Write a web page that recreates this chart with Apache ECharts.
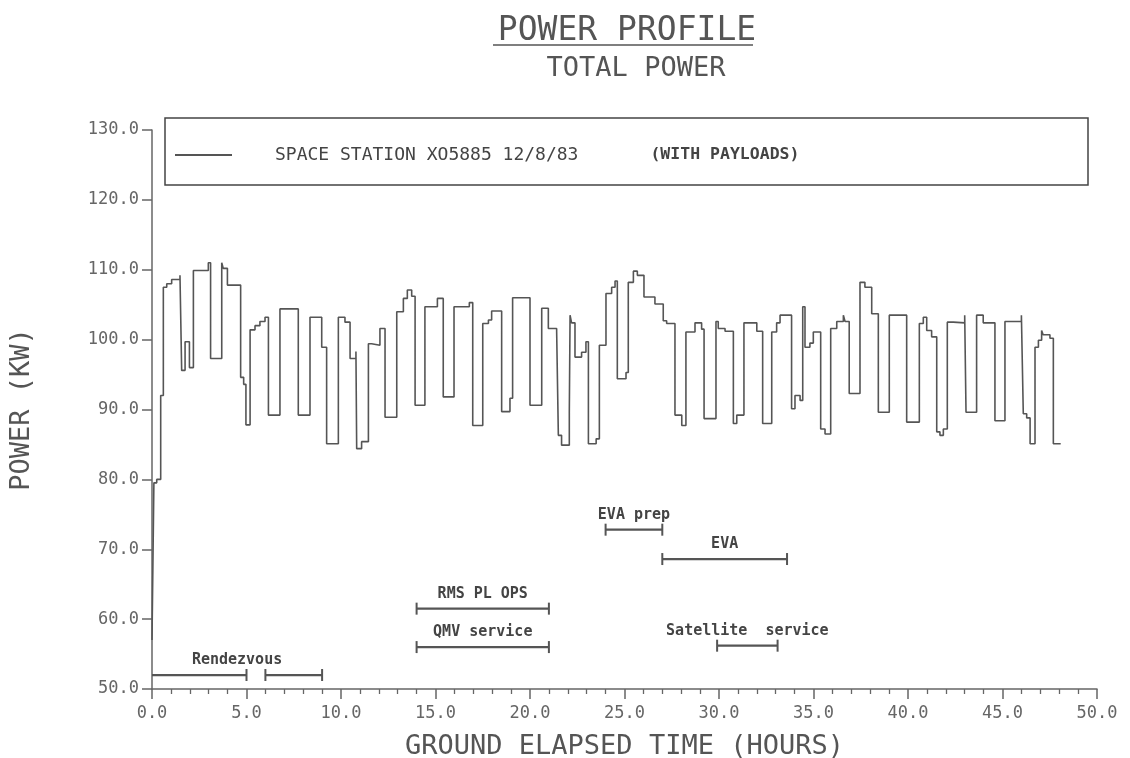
<!DOCTYPE html>
<html>
<head>
<meta charset="utf-8">
<script src="https://cdn.jsdelivr.net/npm/echarts@6/dist/echarts.min.js"></script>
<style>html,body{margin:0;padding:0;background:#fff}#c{width:1130px;height:758px}</style>
</head>
<body>
<div id="c"></div>
<script>
// ---- data ----
const seriesName = 'SPACE STATION XO5885 12/8/83';
const legendNote = '(WITH PAYLOADS)';
// step start times (hours) and power level (kW) held from that time
const times = [0, 0.1, 0.25, 0.46, 0.6, 0.78, 1.04, 1.48, 1.57, 1.75, 1.98, 2.19, 2.98, 3.10, 3.69, 3.77, 3.99, 4.69, 4.85, 4.97,
  5.19, 5.45, 5.71, 5.98, 6.16, 6.77, 7.74, 8.36, 8.98, 9.24, 9.86, 10.21, 10.48, 10.79, 10.83, 11.09, 11.45, 11.62, 12.06, 12.33,
  12.95, 13.3, 13.51, 13.74, 13.92, 14.44, 15.10, 15.41, 15.98, 16.79, 16.97, 17.5, 17.80, 17.97, 18.50, 18.94, 19.08, 20.0, 20.62, 20.97,
  21.41, 21.5, 21.67, 22.08, 22.12, 22.2, 22.38, 22.73, 22.96, 23.09, 23.5, 23.67, 24.02, 24.32, 24.5, 24.62, 25.08, 25.2, 25.47, 25.68,
  26.03, 26.61, 27.05, 27.23, 27.67, 28.03, 28.25, 28.73, 29.08, 29.21, 29.84, 29.96, 30.32, 30.76, 30.94, 31.32, 32.0, 32.31, 32.79, 33.05,
  33.23, 33.84, 34.02, 34.29, 34.43, 34.55, 34.81, 34.99, 35.38, 35.61, 35.91, 36.23, 36.58, 36.67, 36.89, 37.46, 37.72, 38.08, 38.43, 39.01,
  39.93, 40.6, 40.81, 40.99, 41.25, 41.52, 41.69, 41.87, 42.08, 42.4, 43.0, 43.07, 43.63, 43.98, 44.6, 45.13, 46.0, 46.1, 46.28, 46.46,
  46.72, 46.9, 47.07, 47.15, 47.51, 47.69, 48.08];
const power = [57, 79.5, 80, 92, 107.5, 108, 108.6, 109.2, 95.6, 99.7, 96, 109.9, 111, 97.3, 111, 110.2, 107.8, 94.6, 93.6, 87.8,
  101.4, 102, 102.6, 103.2, 89.2, 104.4, 89.2, 103.2, 98.9, 85.1, 103.2, 102.5, 97.3, 98.3, 84.4, 85.4, 99.4, 99.2, 101.6, 88.9,
  104, 105.9, 107.1, 106.2, 90.6, 104.7, 105.9, 91.8, 104.7, 105.3, 87.7, 102.3, 102.8, 104.1, 89.7, 91.6, 106, 90.6, 104.5, 101.6,
  101.2, 86.3, 84.9, 89.5, 103.5, 102.4, 97.5, 98.2, 99.7, 85.1, 85.8, 99.2, 106.6, 107.5, 108.4, 94.4, 95.3, 108.2, 109.8, 109.2,
  106.1, 105.1, 102.7, 102.3, 89.2, 87.7, 101.1, 102.4, 101.5, 88.7, 102.6, 101.6, 101.2, 88, 89.2, 102.4, 101.2, 88, 101.1, 102.4,
  103.5, 90.1, 92, 91.3, 104.7, 98.9, 99.5, 101.1, 87.2, 86.5, 101.6, 102.6, 103.5, 102.6, 92.3, 108.2, 107.5, 103.7, 89.6, 103.5,
  88.2, 102.3, 103.2, 101.3, 100.4, 86.8, 86.3, 87.2, 102.5, 102.4, 103.5, 89.6, 103.5, 102.4, 88.4, 102.6, 103.5, 89.4, 88.8, 85.1,
  98.9, 99.9, 101.3, 100.7, 100.2, 85.1, 85.1];
// activity timeline bars
const actNames  = ['Rendezvous', 'Rendezvous', 'RMS PL OPS', 'QMV service', 'EVA prep', 'EVA', 'Satellite  service'];
const actStart  = [0, 6, 14, 14, 24, 27, 29.9];
const actEnd    = [5, 9, 21, 21, 27, 33.6, 33.1];
const actLevel  = [52, 52, 61.5, 56, 72.8, 68.6, 56.2];
const xTicks = [0, 50, 5];   // min, max, interval
const yTicks = [50, 130, 10];

const mono = 'DejaVu Sans Mono';
const chart = echarts.init(document.getElementById('c'));

const lineData = times.map((t, i) => [t, power[i]]);
// label center for each activity name = middle of its whole span
const spanOf = {};
actNames.forEach((n, i) => {
  const s = spanOf[n] || (spanOf[n] = {a: Infinity, b: -Infinity, first: i});
  s.a = Math.min(s.a, actStart[i]); s.b = Math.max(s.b, actEnd[i]);
});
const actData = actNames.map((n, i) => [actStart[i], actEnd[i], actLevel[i], i]);

chart.setOption({
  animation: false,
  backgroundColor: '#fff',
  title: [
    {text: 'POWER PROFILE', left: 622, top: 10, textAlign: 'center',
     textStyle: {fontFamily: mono, fontSize: 33, fontWeight: 'normal', color: '#555'}},
    {text: 'TOTAL POWER', left: 631, top: 50, textAlign: 'center',
     textStyle: {fontFamily: mono, fontSize: 27, fontWeight: 'normal', color: '#555'}}
  ],
  graphic: [
    {type: 'line', shape: {x1: 493, y1: 45, x2: 753, y2: 45}, style: {stroke: '#555', lineWidth: 1.5}},
    {type: 'rect', shape: {x: 165, y: 118, width: 923, height: 67}, style: {fill: 'none', stroke: '#444', lineWidth: 1.5}}
  ],
  legend: {
    left: 175, top: 146, padding: 0, icon: 'rect', itemWidth: 57, itemHeight: 2,
    data: [seriesName],
    formatter: n => '{a|' + n + '}{b|' + legendNote + '}',
    textStyle: {
      rich: {
        a: {fontFamily: mono, fontSize: 18, color: '#444', padding: [0, 0, 0, 38]},
        b: {fontFamily: mono, fontSize: 16.5, fontWeight: 'bold', color: '#444', padding: [0, 0, 0, 72]}
      }
    }
  },
  grid: {left: 152, right: 33, top: 130, bottom: 69, outerBoundsMode: 'none', containLabel: false},
  xAxis: {
    type: 'value', min: xTicks[0], max: xTicks[1], interval: xTicks[2],
    name: 'GROUND ELAPSED TIME (HOURS)', nameLocation: 'middle', nameGap: 44,
    nameTextStyle: {fontFamily: mono, fontSize: 27, color: '#555'},
    axisLine: {lineStyle: {color: '#666', width: 1.5}},
    axisTick: {length: 10, lineStyle: {color: '#666', width: 1.5}},
    minorTick: {show: true, splitNumber: 5, length: 5, lineStyle: {color: '#666', width: 1.3}},
    axisLabel: {margin: 16, fontFamily: mono, fontSize: 17, color: '#666', formatter: v => v.toFixed(1)},
    splitLine: {show: false}
  },
  yAxis: {
    type: 'value', min: yTicks[0], max: yTicks[1], interval: yTicks[2],
    name: 'POWER (KW)', nameLocation: 'middle', nameGap: 117, nameRotate: 90,
    nameTextStyle: {fontFamily: mono, fontSize: 27, color: '#555'},
    axisLine: {show: true, lineStyle: {color: '#666', width: 1.5}},
    axisTick: {show: true, length: 10, lineStyle: {color: '#666', width: 1.5}},
    axisLabel: {margin: 13, fontFamily: mono, fontSize: 17, color: '#666', formatter: v => v.toFixed(1)},
    splitLine: {show: false}
  },
  series: [
    {
      name: seriesName, type: 'line', step: 'end', data: lineData,
      showSymbol: false, symbol: 'none', itemStyle: {color: '#555'},
      lineStyle: {color: '#555', width: 1.6}
    },
    {
      type: 'custom', clip: false, data: actData, silent: true,
      encode: {x: [0, 1], y: 2},
      renderItem: (params, api) => {
        const a = api.value(0), b = api.value(1), lv = api.value(2), idx = api.value(3);
        const p0 = api.coord([a, lv]), p1 = api.coord([b, lv]);
        const name = actNames[idx];
        const s = spanOf[name];
        const children = [
          {type: 'line', shape: {x1: p0[0], y1: p0[1], x2: p1[0], y2: p1[1]}, style: {stroke: '#555', lineWidth: 2.2}},
          {type: 'line', shape: {x1: p1[0], y1: p1[1] - 6, x2: p1[0], y2: p1[1] + 6}, style: {stroke: '#555', lineWidth: 2}}
        ];
        if (a > 0) children.push({type: 'line', shape: {x1: p0[0], y1: p0[1] - 6, x2: p0[0], y2: p0[1] + 6}, style: {stroke: '#555', lineWidth: 2}});
        if (s.first === idx) {
          const c = api.coord([(s.a + s.b) / 2, lv]);
          children.push({type: 'text', x: c[0], y: c[1] - 7,
            style: {text: name, textAlign: 'center', textVerticalAlign: 'bottom',
              fontFamily: mono, fontSize: 15, fontWeight: 'bold', fill: '#444'}});
        }
        return {type: 'group', children};
      }
    }
  ]
});
</script>
</body>
</html>
